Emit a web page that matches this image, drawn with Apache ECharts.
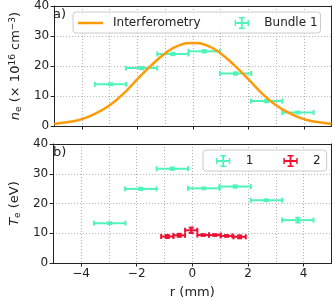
<!DOCTYPE html>
<html><head><meta charset="utf-8">
<script src="https://cdn.jsdelivr.net/npm/echarts@6/dist/echarts.min.js"></script>
<style>html,body{margin:0;padding:0;background:#fff}#c{width:335px;height:300px}</style>
</head><body><div id="c"></div>
<script>
// ---- data ----
const curveR  = [-5,-4.5,-4,-3.5,-3,-2.5,-2,-1.5,-1,-0.5,0,0.5,1,1.5,2,2.5,3,3.5,4,4.5,5];
const curveNe = [0.7,1.3,2.3,4.2,6.9,10.8,15.6,20.2,24.2,26.9,27.7,26.9,24.2,20.2,15.6,10.8,6.9,4.2,2.3,1.3,0.7];

const b1R    = [-2.97,-1.85,-0.72,0.41,1.54,2.66,3.79];
const b1Rerr = [0.565,0.565,0.565,0.565,0.565,0.565,0.565];
const b1Ne   = [13.9,19.3,24.0,24.9,17.5,8.3,4.5];
const b1NeErr= [0.3,0.4,0.4,0.4,0.4,0.4,0.3];
const b1Te   = [13.4,24.9,31.7,25.1,25.7,21.1,14.4];
const b1TeErr= [0.3,0.4,0.4,0.3,0.4,0.3,0.8];

const b2R    = [-0.90,-0.47,-0.04,0.39,0.81,1.23,1.70];
const b2Rerr = [0.22,0.21,0.22,0.21,0.21,0.21,0.22];
const b2Te   = [8.9,9.3,11.0,9.4,9.4,9.1,8.8];
const b2TeErr= [0.5,0.5,0.9,0.3,0.3,0.3,0.5];

const xTicks = [-4,-2,0,2,4];

const CY = '#4ff5b8', RD = '#ee1133', OR = '#ff9a0a';
const FONT = 'DejaVu Sans';

function errData(xs, ys, xe, ye){ return xs.map((x,i)=>[x, ys[i], xe[i], ye[i]]); }
function renderErr(params, api){
  const x=api.value(0), y=api.value(1), xe=api.value(2), ye=api.value(3);
  const a=api.coord([x-xe,y]), b=api.coord([x+xe,y]);
  const c=api.coord([x,y-ye]), d=api.coord([x,y+ye]);
  const col=api.visual('color'); const cap=2.5;
  const st={stroke:col,lineWidth:2};
  return {type:'group',children:[
    {type:'line',shape:{x1:a[0],y1:a[1],x2:b[0],y2:b[1]},style:st},
    {type:'line',shape:{x1:a[0],y1:a[1]-cap,x2:a[0],y2:a[1]+cap},style:st},
    {type:'line',shape:{x1:b[0],y1:b[1]-cap,x2:b[0],y2:b[1]+cap},style:st},
    {type:'line',shape:{x1:c[0],y1:c[1],x2:d[0],y2:d[1]},style:st},
    {type:'line',shape:{x1:c[0]-cap,y1:c[1],x2:c[0]+cap,y2:c[1]},style:st},
    {type:'line',shape:{x1:d[0]-cap,y1:d[1],x2:d[0]+cap,y2:d[1]},style:st}
  ]};
}
const crossIcon = 'path://M0,4.25h12v1.5h-12z M5.25,0h1.5v10h-1.5z M0,2.5h1.2v5h-1.2z M10.8,2.5h1.2v5h-1.2z M3.5,0h5v1.2h-5z M3.5,8.8h5v1.2h-5z';
const lineIcon = 'path://M0,0h0.01v0.01h-0.01z M0,4.8h25v2.4h-25z M24.99,11.99h0.01v0.01h-0.01z';
const minus = v => v<0 ? '\u2212'+Math.abs(v) : String(v);

const grids = [
  {left:50, top:6, width:281.5, height:120},
  {left:50, top:144, width:281.5, height:120}
];
const splitDot = {show:true, lineStyle:{type:[1,2], color:'#b0b0b0', width:1}};
function mainX(g, labels){
  return {type:'value', gridIndex:g, min:-5, max:5, interval:1,
    axisLine:{show:true,onZero:false,lineStyle:{color:'#222',width:1}},
    axisTick:{show:true,length:3.5,customValues:xTicks,lineStyle:{color:'#222'}},
    axisLabel:{show:labels,customValues:xTicks,formatter:minus,fontFamily:FONT,fontSize:12,color:'#222',margin:5},
    splitLine:{show:false},
    name: labels ? 'r (mm)' : '', nameLocation:'middle', nameGap:23,
    nameTextStyle:{fontFamily:FONT,fontSize:13,color:'#222'}};
}
function splitX(g){
  return {type:'value', gridIndex:g, min:-5, max:5, interval:1, position:'top',
    axisLine:{show:true,onZero:false,lineStyle:{color:'#222',width:1}},
    axisTick:{show:false}, axisLabel:{show:false}, splitLine:splitDot};
}
function mainY(g, name){
  return {type:'value', gridIndex:g, min:0, max:40, interval:10,
    axisLine:{show:true,onZero:false,lineStyle:{color:'#222',width:1}},
    axisTick:{show:true,length:3.5,lineStyle:{color:'#222'}},
    axisLabel:{fontFamily:FONT,fontSize:12,color:'#222',margin:5},
    splitLine:splitDot,
    name:name, nameLocation:'middle', nameGap:g===0?30:31,
    nameTextStyle:{fontFamily:FONT,fontSize:13,color:'#222',
      rich:{i:{fontStyle:'italic',fontFamily:FONT,fontSize:13,color:'#222'},
            s:{fontFamily:FONT,fontSize:9,color:'#222',verticalAlign:'bottom',padding:[6,0,0,0]},
            p:{fontFamily:FONT,fontSize:9,color:'#222',verticalAlign:'top',padding:[0,0,6,0]},
            t:{fontFamily:FONT,fontSize:13,color:'#222'}}}};
}
function rightY(g){
  return {type:'value', gridIndex:g, min:0, max:40, interval:10, position:'right',
    axisLine:{show:true,onZero:false,lineStyle:{color:'#222',width:1}},
    axisTick:{show:false}, axisLabel:{show:false}, splitLine:{show:false}};
}

const legendBase = {
  orient:'horizontal', itemWidth:25, itemHeight:12,
  backgroundColor:'rgba(255,255,255,0.85)', borderColor:'#cccccc', borderWidth:1, borderRadius:3,
  textStyle:{fontFamily:FONT,fontSize:12,color:'#222',padding:[0,0,0,5]}
};

const option = {
  animation:false,
  grid: grids,
  xAxis:[mainX(0,false), splitX(0), mainX(1,true), splitX(1)],
  yAxis:[mainY(0,'{i|n}{s|e}{t| (× 10}{p|16}{t| cm}{p|−3}{t|)}'), rightY(0),
         mainY(1,'{i|T}{s|e}{t| (eV)}'), rightY(1)],
  legend:[
    Object.assign({}, legendBase, {left:73, top:12, itemGap:34, padding:[5,3,4,5],
      data:[{name:'Interferometry', icon:lineIcon},{name:'Bundle 1', icon:crossIcon}]}),
    Object.assign({}, legendBase, {left:203, top:150, itemGap:30, padding:[5,6,4,13],
      data:[{name:'1', icon:crossIcon},{name:'2', icon:crossIcon}]})
  ],
  graphic:[
    {type:'text', left:53, top:8, style:{text:'a)', font:'13px "DejaVu Sans"', fill:'#222'}},
    {type:'text', left:53, top:146, style:{text:'b)', font:'13px "DejaVu Sans"', fill:'#222'}}
  ],
  series:[
    {name:'Interferometry', type:'line', xAxisIndex:0, yAxisIndex:0, smooth:true,
     symbol:'none', color:OR, lineStyle:{color:OR,width:2.5},
     data: curveR.map((r,i)=>[r, curveNe[i]]), z:3},
    {name:'Bundle 1', type:'custom', xAxisIndex:0, yAxisIndex:0, color:CY, itemStyle:{color:CY},
     renderItem:renderErr, data: errData(b1R,b1Ne,b1Rerr,b1NeErr), z:2},
    {name:'1', type:'custom', xAxisIndex:2, yAxisIndex:2, color:CY, itemStyle:{color:CY},
     renderItem:renderErr, data: errData(b1R,b1Te,b1Rerr,b1TeErr), z:2},
    {name:'2', type:'custom', xAxisIndex:2, yAxisIndex:2, color:RD, itemStyle:{color:RD},
     renderItem:renderErr, data: errData(b2R,b2Te,b2Rerr,b2TeErr), z:3}
  ]
};
const chart = echarts.init(document.getElementById('c'), null, {renderer:'canvas'});
chart.setOption(option);
</script></body></html>
